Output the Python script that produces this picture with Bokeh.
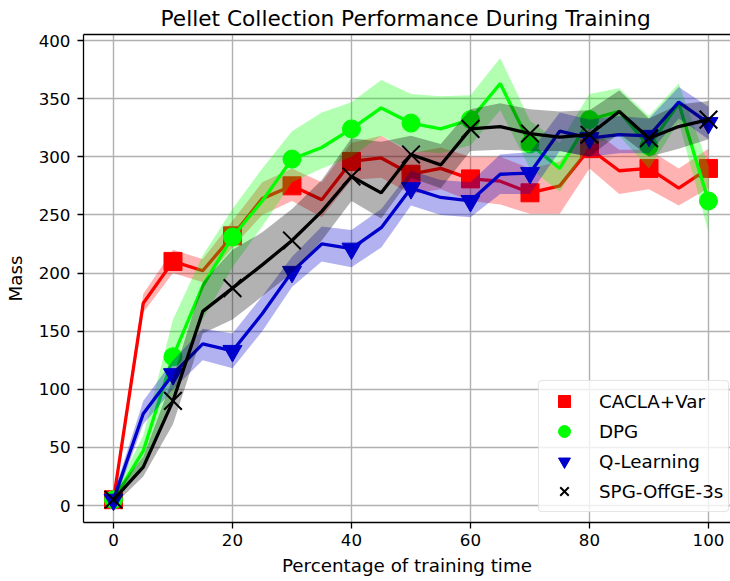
from bokeh.plotting import figure
from bokeh.models import Range1d, LinearAxis, FixedTicker, Legend, LegendItem
from bokeh.embed import file_html
from bokeh.resources import INLINE

# ---- data ----
progress = [0, 5, 10, 15, 20, 25, 30, 35, 40, 45, 50, 55, 60, 65, 70, 75, 80, 85, 90, 95, 100]

cacla_mean = [5, 174, 210, 202, 232, 264, 275, 263, 296, 299, 285, 290, 281, 279, 269, 275, 307, 288, 290, 273, 290]
cacla_low = [0, 166, 200, 192, 222, 250, 262, 248, 280, 282, 268, 272, 262, 259, 251, 251, 290, 268, 272, 258, 273]
cacla_high = [10, 182, 220, 212, 245, 278, 290, 278, 312, 318, 303, 308, 300, 300, 290, 296, 325, 306, 306, 290, 307]

dpg_mean = [5, 47, 128, 189, 231, 262, 298, 308, 324, 342, 329, 324, 332, 363, 311, 290, 332, 339, 309, 346, 262]
dpg_low = [0, 35, 95, 160, 205, 240, 278, 290, 300, 318, 305, 303, 310, 340, 290, 270, 310, 318, 290, 330, 235]
dpg_high = [10, 60, 160, 215, 255, 290, 322, 338, 347, 366, 354, 352, 353, 385, 331, 312, 354, 359, 335, 363, 292]

ql_mean = [5, 79, 113, 139, 133, 165, 201, 225, 221, 239, 273, 265, 262, 285, 286, 322, 316, 319, 318, 347, 329]
ql_low = [0, 70, 100, 125, 118, 150, 188, 210, 205, 222, 258, 250, 248, 268, 268, 305, 300, 303, 303, 333, 315]
ql_high = [10, 90, 125, 152, 148, 180, 214, 240, 237, 255, 288, 280, 278, 302, 304, 338, 332, 335, 333, 360, 343]

spg_mean = [5, 33, 90, 167, 187, 207, 228, 253, 283, 269, 302, 293, 324, 326, 320, 317, 319, 339, 316, 326, 332]
spg_low = [0, 25, 70, 148, 160, 180, 200, 228, 262, 247, 282, 273, 305, 306, 305, 305, 300, 320, 300, 307, 315]
spg_high = [10, 42, 110, 192, 220, 235, 255, 280, 316, 313, 318, 311, 341, 346, 341, 339, 340, 357, 333, 345, 348]

series_names = ["CACLA+Var", "DPG", "Q-Learning", "SPG-OffGE-3s"]
x_ticks = [0, 20, 40, 60, 80, 100]
y_ticks = [0, 50, 100, 150, 200, 250, 300, 350, 400]

FONT = "DejaVu Sans"

p = figure(width=730, height=581,
           x_range=Range1d(-5.04, 103.7), y_range=Range1d(-14.6, 405.2),
           output_backend="svg", toolbar_location=None,
           min_border_left=83, min_border_right=0, min_border_top=33, min_border_bottom=59)
p.outline_line_color = None
p.background_fill_color = "white"
p.border_fill_color = "white"

p.title.text = "Pellet Collection Performance During Training"
p.title.text_font = FONT
p.title.text_font_size = "21.7px"
p.title.text_font_style = "normal"
p.title.text_color = "black"
p.title.align = "left"
p.title.offset = 77
p.title.standoff = 7

# axes
for ax in (p.xaxis[0], p.yaxis[0]):
    ax.axis_line_color = "black"
    ax.axis_line_width = 1.3
    ax.major_tick_line_color = "black"
    ax.major_tick_line_width = 1.3
    ax.major_tick_out = 6
    ax.major_tick_in = 0
    ax.minor_tick_out = 0
    ax.minor_tick_in = 0
    ax.major_label_text_font = FONT
    ax.major_label_text_font_size = "16.7px"
    ax.major_label_text_color = "black"
    ax.axis_label_text_font = FONT
    ax.axis_label_text_font_size = "18.3px"
    ax.axis_label_text_font_style = "normal"
    ax.axis_label_text_color = "black"

p.xaxis.ticker = FixedTicker(ticks=x_ticks)
p.yaxis.ticker = FixedTicker(ticks=y_ticks)
p.xaxis.axis_label = "Percentage of training time"
p.yaxis.axis_label = "Mass"
p.xaxis.major_label_standoff = 5
p.xaxis.axis_label_standoff = 6
p.yaxis.major_label_standoff = 7
p.yaxis.axis_label_standoff = 10

top = LinearAxis(ticker=FixedTicker(ticks=[]), major_label_text_font_size="0px",
                 major_tick_out=0, major_tick_in=0, minor_tick_out=0, minor_tick_in=0,
                 major_label_standoff=0, axis_line_color="black", axis_line_width=1.3)
p.add_layout(top, "above")

p.xgrid.ticker = FixedTicker(ticks=x_ticks)
p.ygrid.ticker = FixedTicker(ticks=y_ticks)
for g in (p.xgrid[0], p.ygrid[0]):
    g.grid_line_color = "#b0b0b0"
    g.grid_line_width = 1.4

colors = ["#ff0000", "#00ff00", "#0000cd", "#000000"]
markers = ["square", "circle", "inverted_triangle", "x"]
means = [cacla_mean, dpg_mean, ql_mean, spg_mean]
lows = [cacla_low, dpg_low, ql_low, spg_low]
highs = [cacla_high, dpg_high, ql_high, spg_high]
sizes = [18, 18, 19, 25]

items = []
for name, c, m, mean, lo, hi, s in zip(series_names, colors, markers, means, lows, highs, sizes):
    p.varea(x=progress, y1=lo, y2=hi, fill_color=c, fill_alpha=0.3)
    p.line(x=progress, y=mean, line_color=c, line_width=3.3)
    if m == "x":
        r = p.scatter(x=progress[::2], y=mean[::2], marker=m, size=s, line_color=c, line_width=2)
    else:
        r = p.scatter(x=progress[::2], y=mean[::2], marker=m, size=s, fill_color=c, line_color=c)
    items.append(LegendItem(label=name, renderers=[r]))

legend = Legend(items=items, location=(455, 10))
legend.label_text_font = FONT
legend.label_text_font_size = "18.3px"
legend.label_text_color = "black"
legend.glyph_width = 40
legend.glyph_height = 30
legend.spacing = 0
legend.padding = 5
legend.margin = 0
legend.label_standoff = 15
legend.border_line_color = "#cccccc"
legend.border_line_width = 1
legend.background_fill_color = "white"
legend.background_fill_alpha = 0.8
try:
    legend.border_radius = 4
except Exception:
    pass
p.add_layout(legend)

open("out.html", "w").write(file_html(p, INLINE))
